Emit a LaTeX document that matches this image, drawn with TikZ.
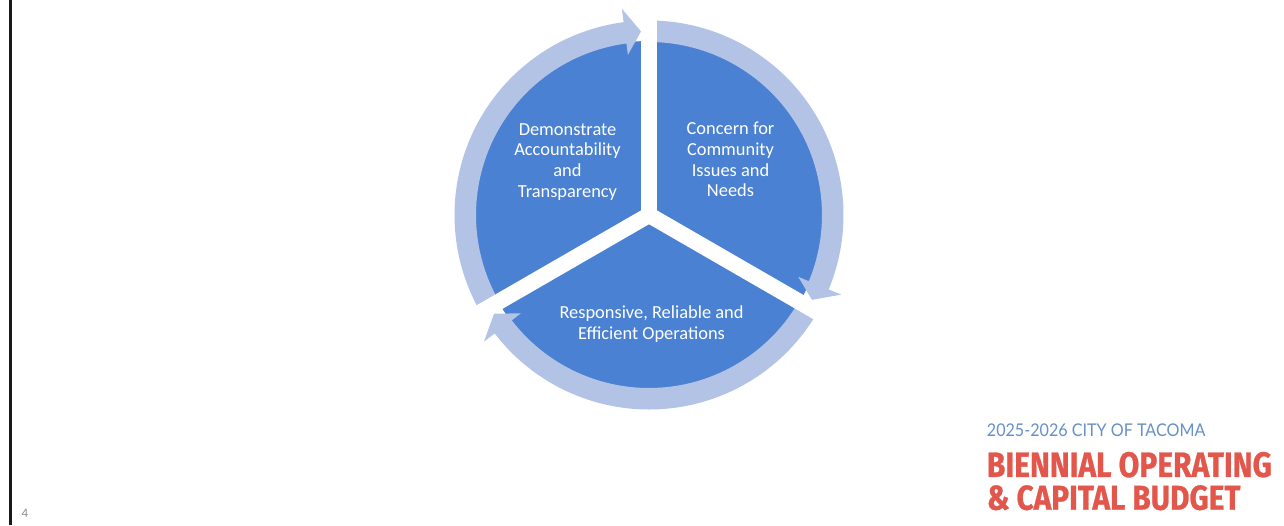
\documentclass[tikz,border=0pt]{standalone}
\usepackage{fontspec}
\usepackage{graphicx}
\newfontfamily\bodyfont{Carlito}
\newfontfamily\logobold{Fira Sans}[BoldFeatures={FakeBold=0.8}]
\newfontfamily\logolight{Lato}
\definecolor{pieblue}{HTML}{4A81D2}
\definecolor{ringblue}{HTML}{B2C3E6}
\definecolor{logoblue}{HTML}{6690CA}
\definecolor{logored}{HTML}{E2564B}
\definecolor{pagegray}{HTML}{8E8E8E}
\begin{document}
\begin{tikzpicture}[x=1pt,y=1pt,
  segtext/.style={text=white, align=center, inner sep=0pt,
    font=\bodyfont\fontsize{18.4}{20.7}\selectfont},
  ringarrow/.style={fill=ringblue, draw=none},
  gapline/.style={draw=white, line width=16pt},
  logoline/.style={anchor=north west, inner sep=0pt}]
\useasboundingbox (0,0) rectangle (1284,-525);
\fill[white] (0,0) rectangle (1284,-525);

% slide edge and page number
\draw[line width=2.6pt, black!90] (10.3,0) -- (10.3,-525);
\node[anchor=base west, inner sep=0pt, text=pagegray,
  font=\bodyfont\fontsize{13}{13}\selectfont] (page) at (21.5,-517) {4};

% cycle: pie, curved arrows, separating gaps
\begin{scope}[shift={(649,-215)}]
  \fill[pieblue] (0,0) circle[radius=174];
  \foreach \s/\b [evaluate=\b as \t using \b-5] in {90/-22.5, -30/-142.5, 210/97.5}{
    \fill[ringarrow] (\s:194.5) arc[start angle=\s, end angle=\b, radius=194.5]
      -- (\b:208) -- (\t:183.75) -- (\b:161.5) -- (\b:173)
      arc[start angle=\b, end angle=\s, radius=173] -- cycle;
  }
  \foreach \a in {90,-30,210}{
    \draw[gapline] (0,0) -- (\a:206);
  }
\end{scope}

\node[segtext] (demo) at (567.5,-161.7) {Demonstrate\\Accountability\\and\\Transparency};
\node[segtext] (concern) at (730.5,-159.5) {Concern for\\Community\\Issues and\\Needs};
\node[segtext] (resp) at (651.5,-324.3) {Responsive, Reliable and\\Efficient Operations};

% budget title block
\node[logoline, text=logoblue] (year) at (986.7,-424)
  {\resizebox{218.5pt}{12.7pt}{\logolight 2025-2026 CITY OF TACOMA}};
\node[logoline, text=logored] (title1) at (986.7,-451.7)
  {\resizebox{285pt}{25pt}{\logobold\bfseries BIENNIAL OPERATING}};
\node[logoline, text=logored] (title2) at (986.7,-485)
  {\resizebox{253.5pt}{24.5pt}{\logobold\bfseries \& CAPITAL BUDGET}};
\end{tikzpicture}
\end{document}
